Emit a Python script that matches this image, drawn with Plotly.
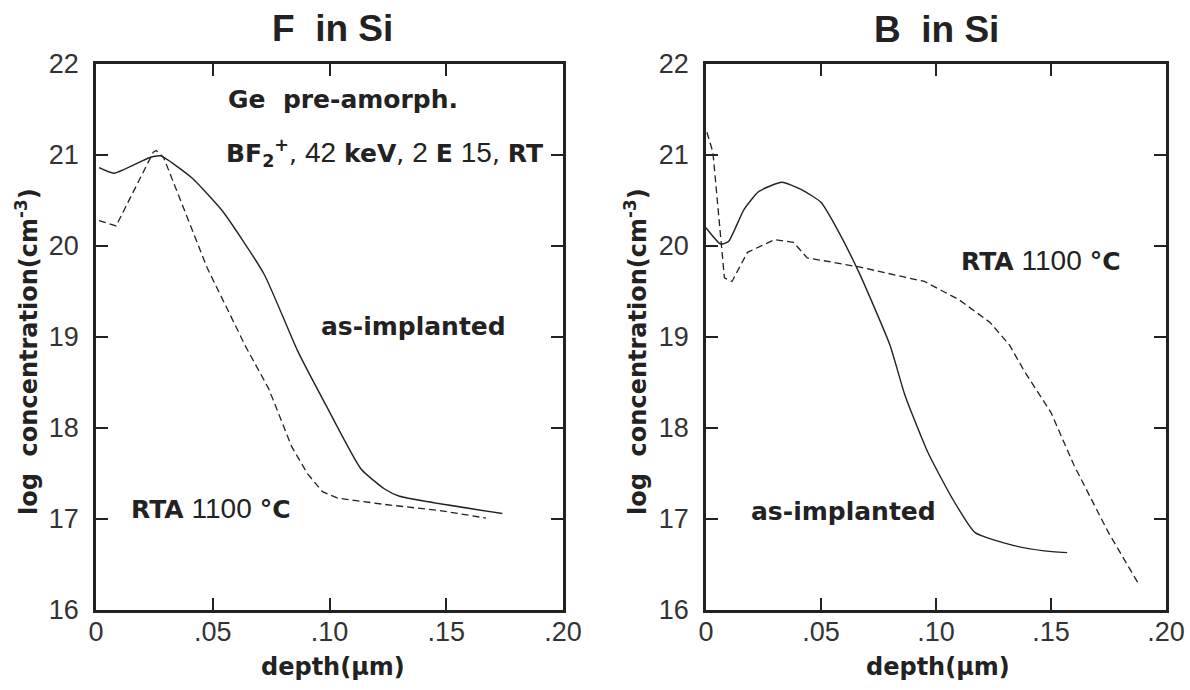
import plotly.graph_objects as go

# ---------------- data (depth in µm, log concentration in cm^-3) ----------------
f_asimpl_depth = [0.0013, 0.0077, 0.0228, 0.0277, 0.041, 0.054, 0.072, 0.0863, 0.0987, 0.1135, 0.1236, 0.130, 0.174]
f_asimpl_logc  = [20.86, 20.80, 20.97, 20.99, 20.75, 20.39, 19.69, 18.85, 18.24, 17.55, 17.33, 17.25, 17.06]

f_rta_depth = [0.0013, 0.0086, 0.0245, 0.0258, 0.029, 0.0476, 0.064, 0.074, 0.0837, 0.0905, 0.097, 0.1035, 0.1236, 0.148, 0.167]
f_rta_logc  = [20.28, 20.22, 21.03, 21.05, 20.97, 19.76, 18.90, 18.43, 17.80, 17.50, 17.30, 17.23, 17.16, 17.09, 17.01]

b_asimpl_depth = [0.0, 0.0064, 0.0098, 0.0165, 0.023, 0.033, 0.0415, 0.050, 0.0565, 0.0665, 0.080, 0.0865, 0.0965, 0.107, 0.117, 0.1335, 0.147, 0.157]
b_asimpl_logc  = [20.20, 20.02, 20.05, 20.40, 20.60, 20.70, 20.62, 20.48, 20.21, 19.71, 18.91, 18.36, 17.73, 17.23, 16.85, 16.71, 16.65, 16.63]

b_rta_depth = [0.0004, 0.003, 0.008, 0.0113, 0.018, 0.0298, 0.038, 0.044, 0.0665, 0.095, 0.110, 0.1235, 0.132, 0.1385, 0.150, 0.160, 0.175, 0.188]
b_rta_logc  = [21.25, 21.03, 19.65, 19.61, 19.93, 20.07, 20.04, 19.87, 19.77, 19.61, 19.41, 19.16, 18.91, 18.62, 18.17, 17.59, 16.85, 16.29]

x_tickvals = [0, 0.05, 0.10, 0.15, 0.20]
x_ticktext = ["0", ".05", ".10", ".15", ".20"]
y_tickvals = [16, 17, 18, 19, 20, 21, 22]
y_ticktext = ["16", "17", "18", "19", "20", "21", "22"]

panel_titles = ["F  in Si", "B  in Si"]

# ---------------- figure ----------------
W, H = 1190, 690
def px(x):
    return x / W
def py(y):
    return 1 - y / H

INK = "#222222"
FONT = "Liberation Sans, Arial, Helvetica, sans-serif"
BFONT = "DejaVu Sans, Liberation Sans, Arial, sans-serif"

fig = go.Figure()
line_solid = dict(color=INK, width=1.4, shape="spline", smoothing=0.5)
line_dash = dict(color=INK, width=1.3, dash="7px,4px")

fig.add_trace(go.Scatter(x=f_asimpl_depth, y=f_asimpl_logc, mode="lines", line=line_solid, xaxis="x", yaxis="y", showlegend=False))
fig.add_trace(go.Scatter(x=f_rta_depth, y=f_rta_logc, mode="lines", line=line_dash, xaxis="x", yaxis="y", showlegend=False))
fig.add_trace(go.Scatter(x=b_asimpl_depth, y=b_asimpl_logc, mode="lines", line=line_solid, xaxis="x2", yaxis="y2", showlegend=False))
fig.add_trace(go.Scatter(x=b_rta_depth, y=b_rta_logc, mode="lines", line=line_dash, xaxis="x2", yaxis="y2", showlegend=False))

ytop, ybot = 64, 610
tickfont = dict(family=FONT, size=27, color="#333333")
xax = dict(range=[0, 0.2], tickvals=x_tickvals, ticktext=x_ticktext, ticks="inside", ticklen=12,
           tickwidth=2, tickcolor=INK, showline=True, linewidth=2.5, linecolor=INK, mirror="ticks",
           showgrid=False, zeroline=False, tickfont=tickfont, automargin=False,
           ticklabelstandoff=-4, fixedrange=True)
yax = dict(range=[16, 22], tickvals=y_tickvals, ticktext=y_ticktext, ticks="inside", ticklen=12,
           tickwidth=2, tickcolor=INK, showline=True, linewidth=2.5, linecolor=INK, mirror="ticks",
           showgrid=False, zeroline=False, tickfont=tickfont, automargin=False,
           ticklabelstandoff=9, fixedrange=True)

fig.update_layout(
    width=W, height=H,
    margin=dict(l=0, r=0, t=0, b=0, autoexpand=False),
    paper_bgcolor="white", plot_bgcolor="white",
    xaxis=dict(xax, domain=[px(96), px(563)], anchor="y"),
    yaxis=dict(yax, domain=[py(ybot), py(ytop)], anchor="x"),
    xaxis2=dict(xax, domain=[px(706), px(1166)], anchor="y2"),
    yaxis2=dict(yax, domain=[py(ybot), py(ytop)], anchor="x2"),
)

def ann(text, x, y, size=22, xanchor="center", yanchor="middle", angle=0, family=BFONT):
    fig.add_annotation(text=text, x=px(x), y=py(y), xref="paper", yref="paper",
                       showarrow=False, xanchor=xanchor, yanchor=yanchor, textangle=angle,
                       font=dict(family=family, size=size, color=INK))

def num(s):
    return "<span style='font-family:Liberation Sans;font-size:28px;font-weight:normal'>" + s + "</span>"

# titles
ann("<b>" + panel_titles[0] + "</b>", 332, 28, size=37, family=FONT)
ann("<b>" + panel_titles[1] + "</b>", 936, 30, size=37, family=FONT)

# axis titles
ytitle = "<b>log  concentration(cm<sup>-3</sup>)</b>"
ann(ytitle, 27, 352, size=24, angle=-90)
ann(ytitle, 636, 352, size=24, angle=-90)
ann("<b>depth</b><b>(µm)</b>", 333, 667, size=24)
ann("<b>depth</b><b>(µm)</b>", 938, 667, size=24)

# in-plot labels
ann("<b>Ge  pre-amorph.</b>", 226, 100, size=25, xanchor="left")
ann("<b>BF<sub>2</sub><sup>+</sup></b>, " + num("42") + " <b>keV</b>, " + num("2") + " <b>E</b> "
    + num("15") + ", <b>RT</b>", 224, 153, size=25, xanchor="left")
ann("<b>as-implanted</b>", 319, 327, size=25, xanchor="left")
ann("<b>RTA</b> " + num("1100") + " <b>°C</b>", 129, 508, size=25, xanchor="left")
ann("<b>RTA</b> " + num("1100") + " <b>°C</b>", 959, 260, size=25, xanchor="left")
ann("<b>as-implanted</b>", 749, 511, size=25, xanchor="left")

fig.write_html("out.html", config={"displayModeBar": False},
               post_script="document.body.style.margin='0';document.body.style.overflow='hidden';")
